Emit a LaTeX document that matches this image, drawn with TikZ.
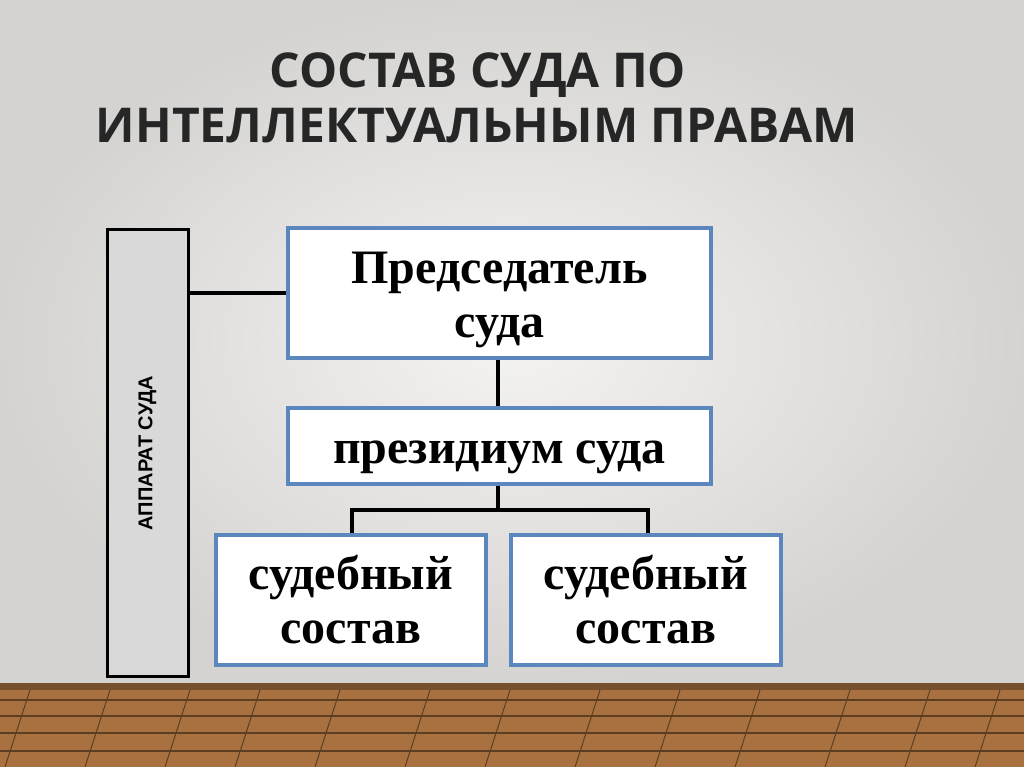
\documentclass[tikz,border=0pt]{standalone}
\usepackage{fontspec}
\setmainfont{Liberation Serif}
\newfontfamily\titlefont{Open Sans}
\newfontfamily\smallsans{Liberation Sans}
\begin{document}
\begin{tikzpicture}[x=1pt,y=-1pt,
  bluebox/.style={draw=boxc, line width=4pt, fill=white, align=center, inner sep=0pt, font=\bfseries\fontsize{48}{54}\selectfont},
  conn/.style={line width=4pt, black}]
\definecolor{wallc}{HTML}{E4E2DF}
\definecolor{floorc}{HTML}{A8713F}
\definecolor{boxc}{HTML}{5B86BE}
\useasboundingbox (0,0) rectangle (1024,767);
\shade[inner color=white!60!wallc, outer color=wallc!85!gray] (0,0) rectangle (1024,685);
\fill[floorc] (0,685) rectangle (1024,767);
\fill[floorc!70!black] (0,683) rectangle (1024,690);
\foreach \y in {700,716,733,751}{\draw[floorc!55!black, line width=1.2pt] (0,\y) -- (1024,\y);}
\foreach \x in {30,110,190,260,340,430,510,600,680,760,850,930,1000}{\draw[floorc!55!black, line width=1pt] (\x,690) -- (\x-25,767);}
\node[font=\titlefont\bfseries\fontsize{48}{48}\selectfont, text=black!85] (t1) at (478,75) {СОСТАВ СУДА ПО};
\node[font=\titlefont\bfseries\fontsize{48}{48}\selectfont, text=black!85] (t2) at (477,126) {ИНТЕЛЛЕКТУАЛЬНЫМ ПРАВАМ};
\node[draw=black, line width=3pt, fill=gray!30, minimum width=81pt, minimum height=446pt, inner sep=0pt] (app) at (147.5,453) {};
\node[rotate=90, font=\smallsans\bfseries\fontsize{20}{20}\selectfont] (appt) at (app.center) {АППАРАТ СУДА};
\node[bluebox, minimum width=423pt, minimum height=130pt] (pred) at (499.5,293) {};
\node[font=\bfseries\fontsize{48}{54}\selectfont, align=center] (predt) at (499.5,300) {Председатель\\суда};
\node[bluebox, minimum width=423pt, minimum height=76pt] (prez) at (499.5,446) {};
\node[font=\bfseries\fontsize{48}{54}\selectfont] (prezt) at (499.5,457) {президиум суда};
\node[bluebox, minimum width=270pt, minimum height=130pt] (s1) at (351,600) {судебный\\состав};
\node[bluebox, minimum width=270pt, minimum height=130pt] (s2) at (646,600) {судебный\\состав};
\draw[conn] (app.east |- 0,293) -- (pred.west |- 0,293);
\draw[conn] (pred.south -| 498,0) -- (prez.north -| 498,0);
\draw[conn] (prez.south -| 498,0) -- (498,510) coordinate (m);
\draw[conn,line cap=rect] (352,510) -- (648,510);
\draw[conn] (352,510) -- (s1.north -| 352,0);
\draw[conn] (648,510) -- (s2.north -| 648,0);
\end{tikzpicture}
\end{document}
